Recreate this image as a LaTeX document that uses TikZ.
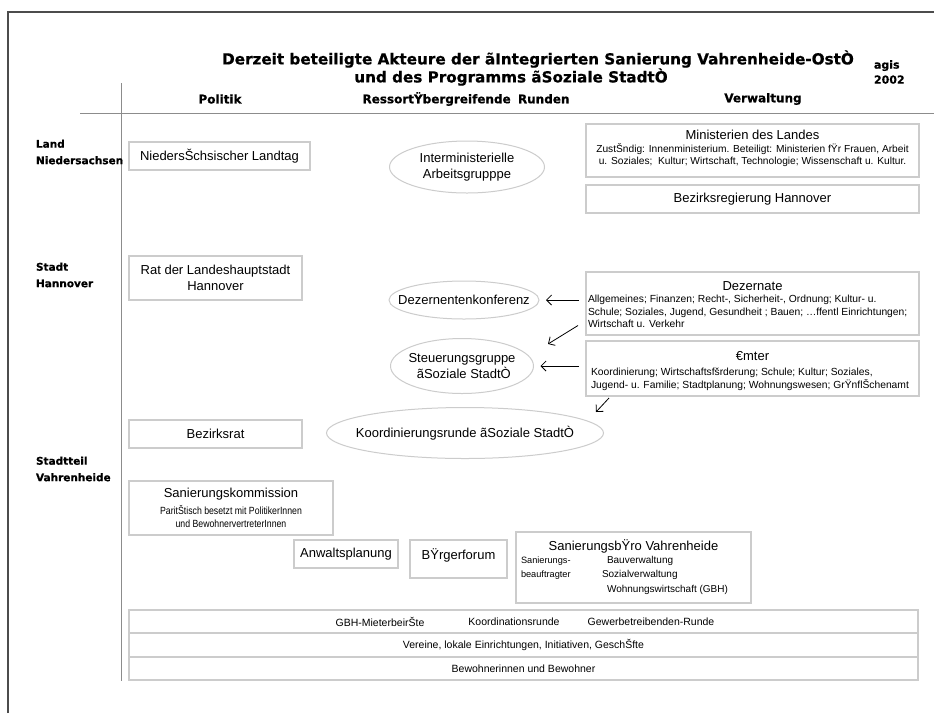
\documentclass[tikz,border=0pt]{standalone}
\usepackage{fontspec}
\setmainfont{Liberation Sans}
\newfontfamily\heavyfont[BoldFeatures={FakeBold=0.6}]{DejaVu Sans}
\newfontfamily\narrowfont[FakeStretch=0.84]{Liberation Sans}
\usetikzlibrary{shapes.geometric,arrows.meta}

\definecolor{framegray}{gray}{0.30}
\definecolor{rulegray}{gray}{0.55}
\definecolor{boxgray}{gray}{0.80}

\newcommand\mainsz{\fontsize{13}{15.5}\selectfont}
\newcommand\smallsz{\fontsize{10.2}{11.5}\selectfont}
\newcommand\barsz{\fontsize{10.5}{12}\selectfont}
\newcommand\titlesz{\heavyfont\bfseries\fontsize{15.2}{19}\selectfont}
\newcommand\headsz{\heavyfont\bfseries\fontsize{12}{14}\selectfont}
\newcommand\rowsz{\heavyfont\bfseries\fontsize{10.5}{16.5}\selectfont}

\begin{document}
\begin{tikzpicture}[x=1pt,y=-1pt,
  every node/.style={inner sep=0pt, outer sep=0pt},
  box/.style={rectangle, draw=boxgray, line width=1.3pt, align=center},
  oval/.style={ellipse, draw=boxgray, line width=1pt},
  arr/.style={-{Straight Barb[length=5pt,width=10pt]}, line width=0.8pt, black},
  rowlabel/.style={anchor=west, align=left, font=\rowsz},
  colhead/.style={font=\headsz}]

\useasboundingbox[fill=white] (0,0) rectangle (934,713);

% outer frame and grid lines
\draw[framegray, line width=1.3pt] (8,713) -- (8,12) -- (934,12);
\draw[rulegray, line width=1pt] (121,83) -- (121,681);
\draw[rulegray, line width=1pt] (80,113) -- (934,113);

% title
\node[font=\titlesz] (title1) at (538,59) {Derzeit beteiligte Akteure der ãIntegrierten Sanierung Vahrenheide-OstÒ};
\node[font=\titlesz] (title2) at (511,77) {und des Programms ãSoziale StadtÒ};
\node[font=\heavyfont\bfseries\fontsize{11}{15}\selectfont, align=left, anchor=west] (agis) at (874,72) {agis\\2002};

% column heads
\node[colhead] (hpol) at (220,99) {Politik};
\node[colhead] (hress) at (466,99) {RessortŸbergreifende\hspace{0.6em}Runden};
\node[colhead] (hverw) at (763,99) {Verwaltung};

% row labels
\node[rowlabel] (rland) at (36,152) {Land\\Niedersachsen};
\node[rowlabel] (rstadt) at (36,275) {Stadt\\Hannover};
\node[rowlabel] (rteil) at (36,469) {Stadtteil\\Vahrenheide};

% Land
\node[box, minimum width=181pt, minimum height=28pt, font=\mainsz] (landtag) at (219.5,156) {NiedersŠchsischer Landtag};
\node[box, minimum width=333pt, minimum height=53pt] (minist) at (752.5,150.5) {};
\node[font=\mainsz] (ministT) at (752.5,135) {Ministerien des Landes};
\node[font=\smallsz, align=center] (ministS) at (752.5,155) {ZustŠndig: Innenministerium. Beteiligt: Ministerien fŸr Frauen, Arbeit\\u. Soziales;\ \ Kultur; Wirtschaft, Technologie; Wissenschaft u. Kultur.};
\node[box, minimum width=333pt, minimum height=28pt, font=\mainsz] (bezreg) at (752.5,199) {Bezirksregierung Hannover};
\node[oval, minimum width=155pt, minimum height=52pt] (interm) at (467,167) {};
\node[font=\mainsz, align=center] (intermT) at (interm.center) {Interministerielle\\Arbeitsgrupppe};

% Stadt
\node[box, minimum width=173pt, minimum height=44pt, font=\mainsz] (rat) at (215.5,278) {Rat der Landeshauptstadt\\Hannover};
\node[box, minimum width=333pt, minimum height=63pt] (dez) at (752.5,303.5) {};
\node[font=\mainsz] (dezT) at (752.5,286) {Dezernate};
\node[font=\fontsize{10.3}{12.5}\selectfont, align=left, anchor=west] (dezS) at (588,311.5) {Allgemeines; Finanzen; Recht-, Sicherheit-, Ordnung; Kultur- u.\\Schule; Soziales, Jugend, Gesundheit ; Bauen; …ffentl Einrichtungen;\\Wirtschaft u. Verkehr};
\node[box, minimum width=333pt, minimum height=55pt] (aemter) at (752.5,368.5) {};
\node[font=\mainsz] (aemterT) at (752.5,356) {€mter};
\node[font=\fontsize{10.3}{13}\selectfont, align=left, anchor=west] (aemterS) at (591,379.5) {Koordinierung; Wirtschaftsfšrderung; Schule; Kultur; Soziales,\\Jugend- u. Familie; Stadtplanung; Wohnungswesen; GrŸnflŠchenamt};
\node[box, minimum width=173pt, minimum height=28pt, font=\mainsz] (bezrat) at (215.5,434) {Bezirksrat};

\node[oval, minimum width=150pt, minimum height=38pt] (dezkonf) at (464,300) {};
\node[font=\mainsz] (dezkonfT) at (dezkonf.center) {Dezernentenkonferenz};
\node[oval, minimum width=143pt, minimum height=55pt] (steuer) at (462,366) {};
\node[font=\mainsz, align=center] (steuerT) at (steuer.center) {Steuerungsgruppe\\\ ãSoziale StadtÒ};
\node[oval, minimum width=277pt, minimum height=51pt] (koord) at (465,433) {};
\node[font=\mainsz] (koordT) at (koord.center) {Koordinierungsrunde ãSoziale StadtÒ};

% arrows from the administration to the rounds
\draw[arr] ([xshift=-7pt]dez.west |- dezkonf.east) -- ([xshift=7pt]dezkonf.east);
\draw[arr] ([shift={(-8,22)}]dez.west) -- ([shift={(86,-22)}]steuer.center);
\draw[arr] ([xshift=-7pt]aemter.west |- steuer.east) -- ([xshift=7pt]steuer.east);
\draw[arr] ([shift={(23,2)}]aemter.south west) -- ([shift={(10,16)}]aemter.south west);

% Stadtteil
\node[box, minimum width=204pt, minimum height=54pt] (sankom) at (231,508) {};
\node[font=\mainsz] (sankomT) at (231,494) {Sanierungskommission};
\node[font=\narrowfont\fontsize{10.4}{13}\selectfont, align=center] (sankomS) at (231,516.5) {ParitŠtisch besetzt mit PolitikerInnen\\und BewohnervertreterInnen};
\node[box, minimum width=104pt, minimum height=28pt, font=\mainsz] (anwalt) at (346,554) {Anwaltsplanung};
\node[box, minimum width=97pt, minimum height=38pt] (buerger) at (458.5,559) {};
\node[font=\mainsz] (buergerT) at (458.5,555) {BŸrgerforum};
\node[box, minimum width=235pt, minimum height=71pt] (sanbuero) at (633.5,567.5) {};
\node[font=\mainsz] (sanbueroT) at (633.5,546) {SanierungsbŸro Vahrenheide};
\node[font=\fontsize{9.2}{14}\selectfont, align=left, anchor=west] (sbA) at (521,568) {Sanierungs-\\beauftragter};
\node[font=\fontsize{10}{14}\selectfont, anchor=west] (sbB) at (607,561) {Bauverwaltung};
\node[font=\fontsize{10}{14}\selectfont, anchor=west] (sbC) at (602,575) {Sozialverwaltung};
\node[font=\fontsize{10}{14}\selectfont, anchor=west] (sbD) at (607,590) {Wohnungswirtschaft (GBH)};

% bars at the bottom
\node[box, minimum width=789pt, minimum height=23pt] (bar1) at (523.5,621.5) {};
\node[font=\barsz] (bar1a) at (380,621.5) {GBH-MieterbeirŠte};
\node[font=\barsz] (bar1b) at (514,621.5) {Koordinationsrunde};
\node[font=\barsz] (bar1c) at (651,621.5) {Gewerbetreibenden-Runde};
\node[box, minimum width=789pt, minimum height=24pt, font=\barsz] (bar2) at (523.5,645) {Vereine, lokale Einrichtungen, Initiativen, GeschŠfte};
\node[box, minimum width=789pt, minimum height=23pt, font=\barsz] (bar3) at (523.5,668.5) {Bewohnerinnen und Bewohner};

\end{tikzpicture}
\end{document}
